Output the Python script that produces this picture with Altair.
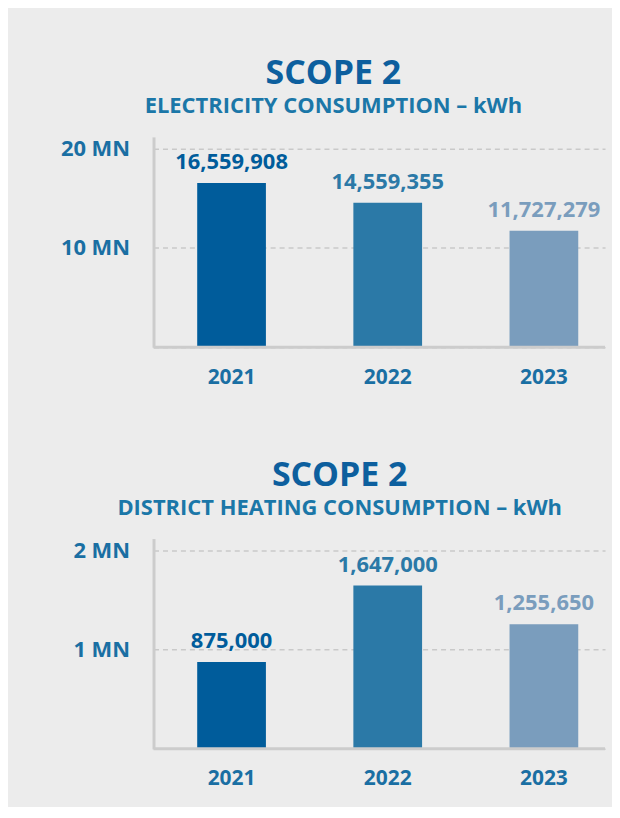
import altair as alt
import pandas as pd

years = ["2021", "2022", "2023"]
electricity_kwh = [16559908, 14559355, 11727279]
heating_kwh = [875000, 1647000, 1255650]
electricity_ticks = [0, 10000000, 20000000]
heating_ticks = [0, 1000000, 2000000]
bar_colors = ["#005c9b", "#2b79a7", "#7a9dbd"]

FONT = "Open Sans"
AXIS_BLUE = "#1a6fa3"
GRID_GRAY = "#c9c9c9"
LINE_GRAY = "#cccccc"


def panel(values, subtitle, ymax, ticks):
    df = pd.DataFrame({
        "year": years,
        "value": values,
        "label": [f"{v:,}" for v in values],
    })
    base = alt.Chart(df)
    x = alt.X(
        "year:N",
        scale=alt.Scale(paddingInner=0.56, paddingOuter=0.2256, align=0.62),
        axis=alt.Axis(
            title=None, domain=False, ticks=False, labelAngle=0,
            labelFontSize=21, labelFont=FONT, labelFontWeight="bold",
            labelColor=AXIS_BLUE, labelPadding=19,
        ),
    )
    y = alt.Y(
        "value:Q",
        scale=alt.Scale(domain=[0, ymax], nice=False),
        axis=alt.Axis(
            title=None, values=ticks, ticks=False,
            labelExpr="datum.value == 0 ? '' : format(datum.value/1e6, 'd') + ' MN'",
            labelFontSize=22, labelFont=FONT, labelFontWeight="bold",
            labelColor=AXIS_BLUE, labelPadding=24,
            domainColor=LINE_GRAY, domainWidth=3,
            gridColor=GRID_GRAY, gridDash=[5, 4], gridWidth=1.5,
        ),
    )
    color = alt.Color("year:N", scale=alt.Scale(domain=years, range=bar_colors), legend=None)
    bars = base.mark_bar().encode(x=x, y=y, color=color)
    text = base.mark_text(
        dy=-9, baseline="bottom", fontSize=22, font=FONT, fontWeight="bold"
    ).encode(x="year:N", y="value:Q", text="label:N", color=color)
    baseline = alt.Chart(pd.DataFrame({"v": [0]})).mark_rule(
        color=LINE_GRAY, strokeWidth=3
    ).encode(y=alt.datum(0), x=alt.value(0), x2=alt.value("width"))
    return alt.layer(bars, baseline, text).properties(
        width=453,
        height=211,
        title=alt.Title(
            text="SCOPE 2",
            subtitle=subtitle,
            fontSize=34, font=FONT, fontWeight="bold", color="#0d5f9e",
            subtitleFont=FONT, subtitleFontSize=22, subtitleFontWeight="bold",
            subtitleColor="#1b77a8", subtitlePadding=5, offset=20,
            anchor="middle", frame="bounds",
        ),
    )


top = panel(electricity_kwh, "ELECTRICITY CONSUMPTION – kWh", 21200000, electricity_ticks)
bottom = panel(heating_kwh, "DISTRICT HEATING CONSUMPTION – kWh", 2120000, heating_ticks)

chart = alt.vconcat(top, bottom, spacing=72).properties(
    padding={"left": 52, "top": 48, "right": 5, "bottom": 17},
).configure(background="#ececec").configure_view(stroke=None)

chart.save("out.html", embed_options={"renderer": "svg", "actions": False})
